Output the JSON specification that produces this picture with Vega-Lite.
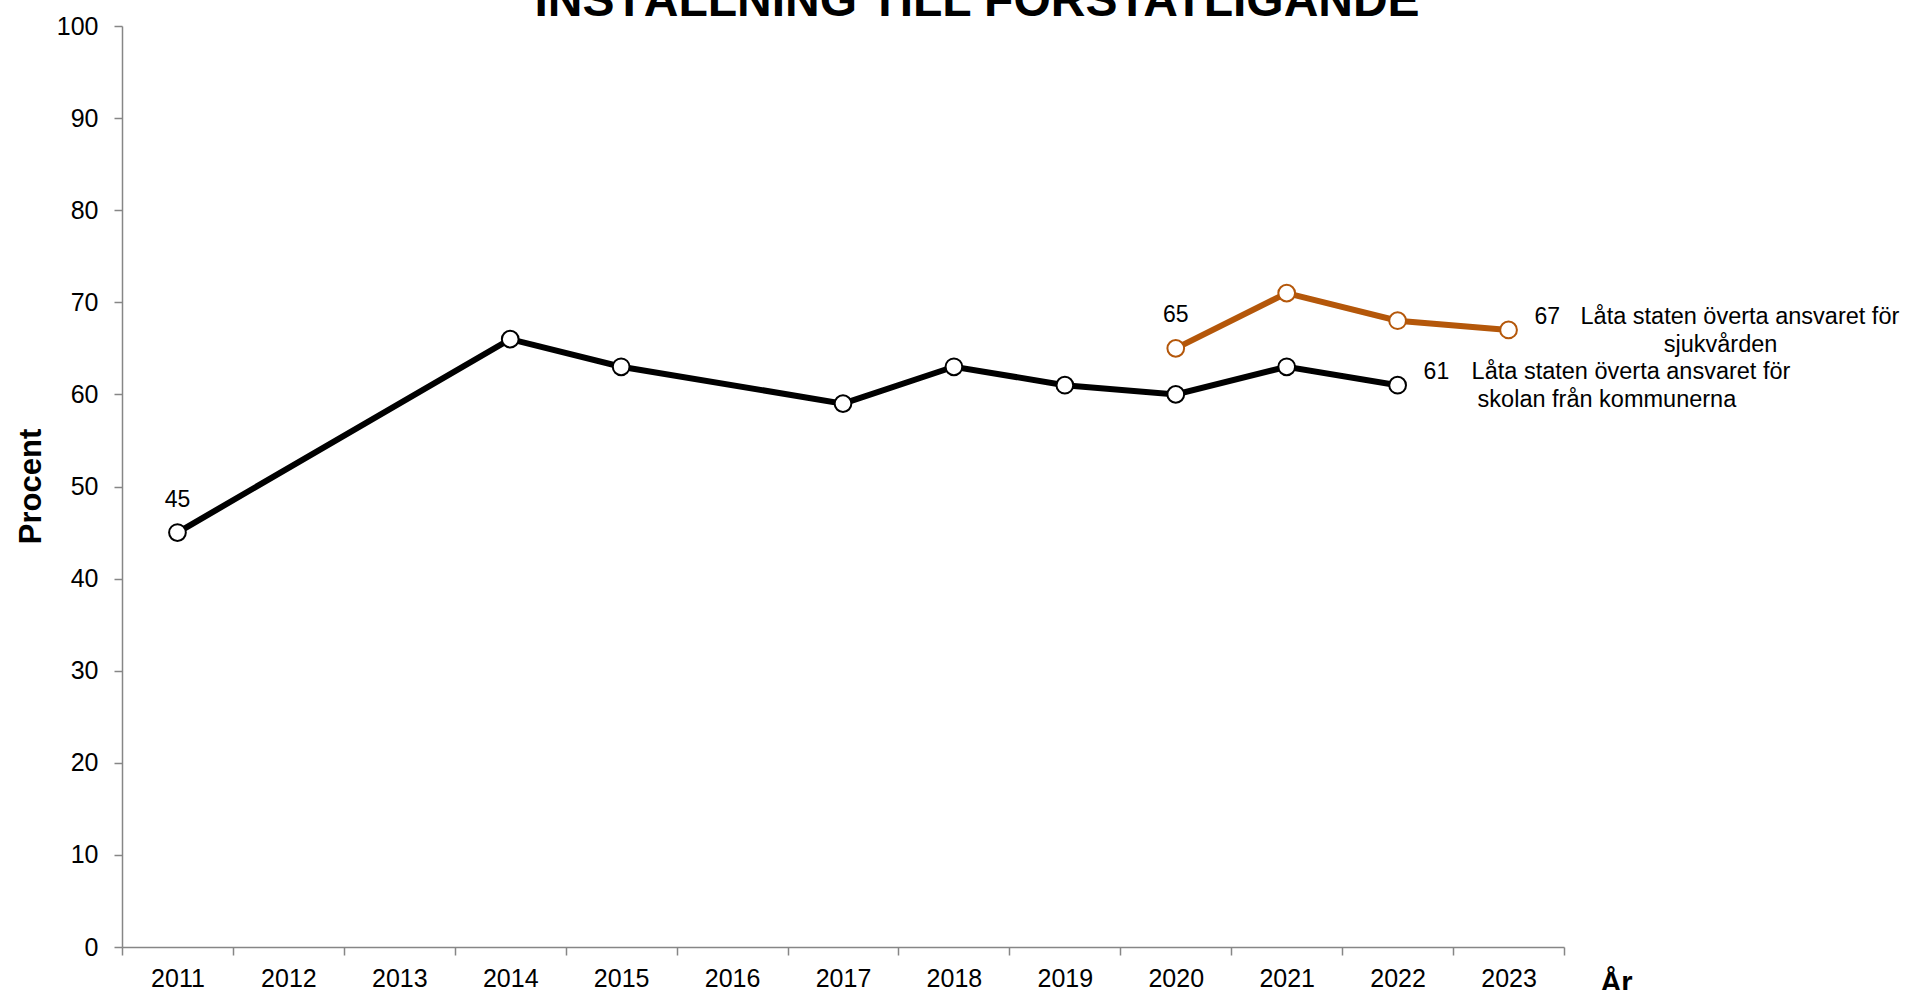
{
  "$schema": "https://vega.github.io/schema/vega-lite/v6.json",
  "width": 1442,
  "height": 921,
  "autosize": {"type": "none"},
  "padding": {"left": 122, "top": 26, "right": 348, "bottom": 43},
  "background": "white",
  "config": {"font": "Liberation Sans", "view": {"stroke": null}},
  "title": {
    "text": "INSTÄLLNING TILL FÖRSTATLIGANDE",
    "fontSize": 48,
    "fontWeight": "bold",
    "font": "Liberation Sans",
    "anchor": "middle",
    "baseline": "alphabetic",
    "offset": -50,
    "dx": 134,
    "color": "#000000"
  },
  "datasets": {
    "series": [
      {"year": 2011, "value": 45, "series": "skolan"},
      {"year": 2014, "value": 66, "series": "skolan"},
      {"year": 2015, "value": 63, "series": "skolan"},
      {"year": 2017, "value": 59, "series": "skolan"},
      {"year": 2018, "value": 63, "series": "skolan"},
      {"year": 2019, "value": 61, "series": "skolan"},
      {"year": 2020, "value": 60, "series": "skolan"},
      {"year": 2021, "value": 63, "series": "skolan"},
      {"year": 2022, "value": 61, "series": "skolan"},
      {"year": 2020, "value": 65, "series": "sjukvården"},
      {"year": 2021, "value": 71, "series": "sjukvården"},
      {"year": 2022, "value": 68, "series": "sjukvården"},
      {"year": 2023, "value": 67, "series": "sjukvården"}
    ],
    "notes": [
      {"year": 2011, "value": 45, "text": "45", "kind": "above"},
      {"year": 2020, "value": 65, "text": "65", "kind": "above"},
      {"year": 2022, "value": 61, "text": "61", "kind": "right"},
      {"year": 2023, "value": 67, "text": "67", "kind": "right"},
      {"year": 2022, "value": 61, "text": "Låta staten överta ansvaret för", "kind": "skolan1"},
      {"year": 2022, "value": 61, "text": "skolan från kommunerna", "kind": "skolan2"},
      {"year": 2023, "value": 67, "text": "Låta staten överta ansvaret för", "kind": "sjuk1"},
      {"year": 2023, "value": 67, "text": "sjukvården", "kind": "sjuk2"}
    ]
  },
  "encoding": {
    "x": {
      "field": "year",
      "type": "ordinal",
      "scale": {
        "domain": [2011, 2012, 2013, 2014, 2015, 2016, 2017, 2018, 2019, 2020, 2021, 2022, 2023],
        "paddingInner": 0,
        "paddingOuter": 0
      },
      "axis": {
        "title": "År",
        "titleFontSize": 29,
        "titleFontWeight": "bold",
        "titleColor": "#000000",
        "titleX": 1494,
        "titleY": 44,
        "titleAlign": "center",
        "titleBaseline": "alphabetic",
        "titleAngle": 0,
        "labelAngle": 0,
        "labelFontSize": 25,
        "labelColor": "#000000",
        "labelBaseline": "alphabetic",
        "labelPadding": 31,
        "tickBand": "extent",
        "tickSize": 8,
        "tickColor": "#868686",
        "tickWidth": 1.5,
        "domainColor": "#868686",
        "domainWidth": 1.5,
        "grid": false
      }
    },
    "y": {
      "field": "value",
      "type": "quantitative",
      "scale": {"domain": [0, 100], "nice": false},
      "axis": {
        "title": "Procent",
        "titleFontSize": 31,
        "titleFontWeight": "bold",
        "titleColor": "#000000",
        "titleX": -82,
        "titleY": 460,
        "titleAlign": "center",
        "titleBaseline": "alphabetic",
        "titleAngle": -90,
        "values": [0, 10, 20, 30, 40, 50, 60, 70, 80, 90, 100],
        "labelFontSize": 25,
        "labelColor": "#000000",
        "labelPadding": 16,
        "tickSize": 8,
        "tickColor": "#868686",
        "tickWidth": 1.5,
        "domainColor": "#868686",
        "domainWidth": 1.5,
        "grid": false
      }
    }
  },
  "layer": [
    {
      "data": {"name": "series"},
      "mark": {"type": "line", "strokeWidth": 6},
      "encoding": {
        "color": {
          "field": "series",
          "type": "nominal",
          "scale": {"domain": ["skolan", "sjukvården"], "range": ["#000000", "#B4570A"]},
          "legend": null
        }
      }
    },
    {
      "data": {"name": "series"},
      "mark": {"type": "point", "shape": "circle", "filled": false, "fill": "#ffffff", "fillOpacity": 1, "opacity": 1, "strokeWidth": 2, "size": 280},
      "encoding": {
        "stroke": {
          "field": "series",
          "type": "nominal",
          "scale": {"domain": ["skolan", "sjukvården"], "range": ["#000000", "#B4570A"]},
          "legend": null
        }
      }
    },
    {
      "data": {"name": "notes"},
      "transform": [{"filter": "datum.kind === 'above'"}],
      "mark": {"type": "text", "fontSize": 23, "align": "center", "baseline": "middle", "dy": -33, "color": "#000000"},
      "encoding": {"text": {"field": "text"}}
    },
    {
      "data": {"name": "notes"},
      "transform": [{"filter": "datum.kind === 'right'"}],
      "mark": {"type": "text", "fontSize": 23, "align": "left", "baseline": "middle", "dx": 26, "dy": -13, "color": "#000000"},
      "encoding": {"text": {"field": "text"}}
    },
    {
      "data": {"name": "notes"},
      "transform": [{"filter": "datum.kind === 'skolan1'"}],
      "mark": {"type": "text", "fontSize": 23.5, "align": "left", "baseline": "middle", "dx": 74, "dy": -13, "color": "#000000"},
      "encoding": {"text": {"field": "text"}}
    },
    {
      "data": {"name": "notes"},
      "transform": [{"filter": "datum.kind === 'skolan2'"}],
      "mark": {"type": "text", "fontSize": 23.5, "align": "left", "baseline": "middle", "dx": 80, "dy": 15, "color": "#000000"},
      "encoding": {"text": {"field": "text"}}
    },
    {
      "data": {"name": "notes"},
      "transform": [{"filter": "datum.kind === 'sjuk1'"}],
      "mark": {"type": "text", "fontSize": 23.5, "align": "left", "baseline": "middle", "dx": 72, "dy": -13, "color": "#000000"},
      "encoding": {"text": {"field": "text"}}
    },
    {
      "data": {"name": "notes"},
      "transform": [{"filter": "datum.kind === 'sjuk2'"}],
      "mark": {"type": "text", "fontSize": 23.5, "align": "center", "baseline": "middle", "dx": 212, "dy": 15, "color": "#000000"},
      "encoding": {"text": {"field": "text"}}
    }
  ]
}
